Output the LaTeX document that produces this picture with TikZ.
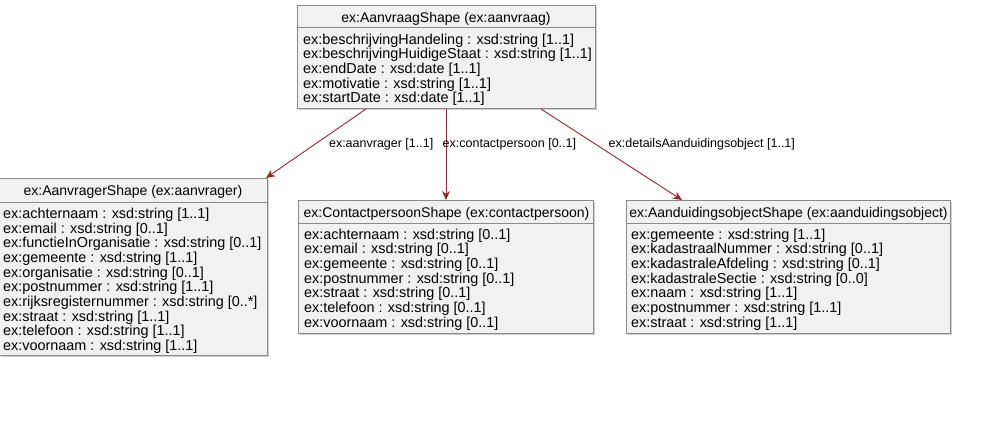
\documentclass[tikz,border=0pt]{standalone}
\usepackage{fontspec}
\setmainfont{Liberation Sans}
\usetikzlibrary{arrows.meta,calc}
\definecolor{boxfill}{HTML}{F1F1F1}
\definecolor{boxline}{HTML}{8A8A8A}
\definecolor{shadowc}{HTML}{CFCFCF}
\definecolor{arrowc}{HTML}{8B2B2B}
\begin{document}
\begin{tikzpicture}[x=1pt,y=-1pt,
  classbox/.style={draw=boxline, fill=boxfill, line width=1pt, rectangle, inner sep=0pt, anchor=north west},
  shadowbox/.style={fill=shadowc, draw=none},
  sepline/.style={draw=boxline, line width=1pt},
  ttl/.style={font=\fontsize{14.0}{15}\selectfont, inner sep=0pt, anchor=base},
  attr/.style={font=\fontsize{14.4}{15}\selectfont, inner sep=0pt, anchor=base west},
  link/.style={draw=arrowc, line width=0.9pt, -{Stealth[length=9pt,width=8pt]}},
  lbl/.style={font=\fontsize{12.5}{14}\selectfont, inner sep=0pt}
]
\useasboundingbox (0,0) rectangle (996,437);
\fill[white] (0,0) rectangle (996,437);

% shadows
\fill[shadowc] (299,7) rectangle (597,110);
\fill[shadowc] (1,180) rectangle (269,357);
\fill[shadowc] (300,202) rectangle (595,335);
\fill[shadowc] (628,202) rectangle (952,335);

% boxes
\node[classbox, minimum width=298pt, minimum height=103pt] (aanvraag) at (297,5) {};
\node[classbox, minimum width=268pt, minimum height=177pt] (aanvrager) at (-1,178) {};
\node[classbox, minimum width=295pt, minimum height=133pt] (contact) at (298,200) {};
\node[classbox, minimum width=324pt, minimum height=133pt] (aanduiding) at (626,200) {};

% separators
\draw[sepline] (297,27) -- (595,27);
\draw[sepline] (-1,202) -- (267,202);
\draw[sepline] (298,223) -- (593,223);
\draw[sepline] (626,223) -- (950,223);

% titles
\node[ttl] (t1) at (446,22) {ex:AanvraagShape (ex:aanvraag)};
\node[ttl] (t2) at (133,195) {ex:AanvragerShape (ex:aanvrager)};
\node[ttl] (t3) at (446.5,217) {ex:ContactpersoonShape (ex:contactpersoon)};
\node[ttl] (t4) at (788.5,217) {ex:AanduidingsobjectShape (ex:aanduidingsobject)};

% attributes
\foreach \t [count=\i from 0] in {
  {ex:beschrijvingHandeling : xsd:string [1..1]},
  {ex:beschrijvingHuidigeStaat : xsd:string [1..1]},
  {ex:endDate : xsd:date [1..1]},
  {ex:motivatie : xsd:string [1..1]},
  {ex:startDate : xsd:date [1..1]}}
  \node[attr] (a\i) at (303,44+14.7*\i) {\t};

\foreach \t [count=\i from 0] in {
  {ex:achternaam : xsd:string [1..1]},
  {ex:email : xsd:string [0..1]},
  {ex:functieInOrganisatie : xsd:string [0..1]},
  {ex:gemeente : xsd:string [1..1]},
  {ex:organisatie : xsd:string [0..1]},
  {ex:postnummer : xsd:string [1..1]},
  {ex:rijksregisternummer : xsd:string [0..*]},
  {ex:straat : xsd:string [1..1]},
  {ex:telefoon : xsd:string [1..1]},
  {ex:voornaam : xsd:string [1..1]}}
  \node[attr] (b\i) at (3,218.3+14.7*\i) {\t};

\foreach \t [count=\i from 0] in {
  {ex:achternaam : xsd:string [0..1]},
  {ex:email : xsd:string [0..1]},
  {ex:gemeente : xsd:string [0..1]},
  {ex:postnummer : xsd:string [0..1]},
  {ex:straat : xsd:string [0..1]},
  {ex:telefoon : xsd:string [0..1]},
  {ex:voornaam : xsd:string [0..1]}}
  \node[attr] (c\i) at (304,239+14.7*\i) {\t};

\foreach \t [count=\i from 0] in {
  {ex:gemeente : xsd:string [1..1]},
  {ex:kadastraalNummer : xsd:string [0..1]},
  {ex:kadastraleAfdeling : xsd:string [0..1]},
  {ex:kadastraleSectie : xsd:string [0..0]},
  {ex:naam : xsd:string [1..1]},
  {ex:postnummer : xsd:string [1..1]},
  {ex:straat : xsd:string [1..1]}}
  \node[attr] (d\i) at (631,239+14.7*\i) {\t};

% connectors
\coordinate (s1) at ($(aanvraag.south west)+(69,0)$);
\coordinate (s2) at ($(aanvraag.south west)+(149,0)$);
\coordinate (s3) at ($(aanvraag.south west)+(244,0)$);
\coordinate (e1) at ($(aanvrager.north east)+(-2,0)$);
\coordinate (e2) at ($(contact.north west)+(148,0)$);
\coordinate (e3) at ($(aanduiding.north west)+(56,0)$);
\draw[link] (s1) -- (e1);
\draw[link] (s2) -- (e2);
\draw[link] (s3) -- (e3);

% labels
\node[lbl, anchor=base east] (l1) at (433.5,147.4) {ex:aanvrager [1..1]};
\node[lbl, anchor=base west] (l2) at (442.5,147.4) {ex:contactpersoon [0..1]};
\node[lbl, anchor=base west] (l3) at (608.5,147.4) {ex:detailsAanduidingsobject [1..1]};
\end{tikzpicture}
\end{document}
